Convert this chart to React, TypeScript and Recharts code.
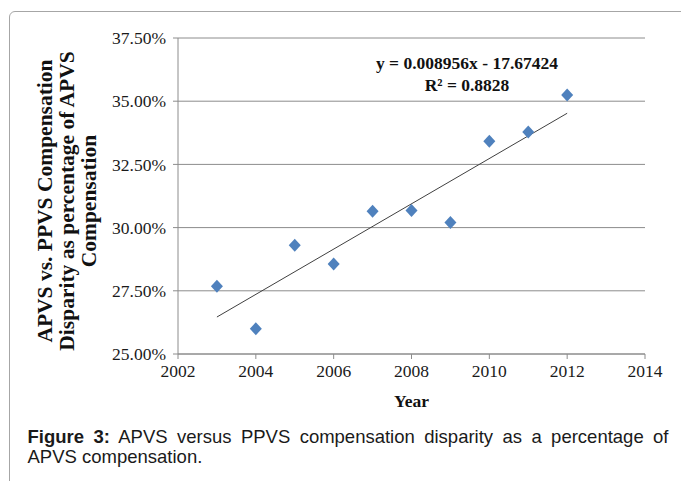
import React from 'react';
import {
  ScatterChart,
  Scatter,
  XAxis,
  YAxis,
  CartesianGrid,
  ReferenceLine,
} from 'recharts';

const years = [2003, 2004, 2005, 2006, 2007, 2008, 2009, 2010, 2011, 2012];
const disparity = [27.68, 26.0, 29.3, 28.56, 30.65, 30.68, 30.2, 33.42, 33.78, 35.25];
const xTicks = [2002, 2004, 2006, 2008, 2010, 2012, 2014];
const yTicks = [25, 27.5, 30, 32.5, 35, 37.5];
const trendSlope = 0.008956;
const trendIntercept = -17.67424;
const trendRange = [2003, 2012];
const yLabelLines = [
  'APVS vs. PPVS Compensation',
  'Disparity as percentage of APVS',
  'Compensation',
];
const equationLines = ['y = 0.008956x - 17.67424', 'R² = 0.8828'];

const data = years.map((year, i) => ({ year, value: disparity[i] }));
const trendPoint = (x: number) => ({ x, y: (trendSlope * x + trendIntercept) * 100 });

const SERIF = '"Liberation Serif", "Times New Roman", serif';
const SANS = '"Liberation Sans", Arial, sans-serif';

const Diamond = (props: any) => {
  const { cx, cy } = props;
  const w = 6;
  const h = 6.5;
  return (
    <polygon
      points={`${cx},${cy - h} ${cx + w},${cy} ${cx},${cy + h} ${cx - w},${cy}`}
      fill="#4F81BD"
    />
  );
};

export default function App() {
  return (
    <div
      style={{
        position: 'fixed',
        left: 0,
        top: 0,
        width: 681,
        height: 481,
        overflow: 'hidden',
        background: '#fff',
      }}
    >
      <div
        style={{
          position: 'absolute',
          left: 9,
          top: 11,
          width: 680,
          height: 490,
          border: '1px solid #a6a6a6',
          borderRadius: 6,
          boxSizing: 'border-box',
        }}
      />
      <div style={{ position: 'absolute', left: 0, top: 0 }}>
        <ScatterChart
          width={681}
          height={481}
          margin={{ top: 38, right: 36, bottom: 97, left: 118 }}
        >
          <CartesianGrid horizontal vertical={false} stroke="#8c8c8c" />
          <XAxis
            type="number"
            dataKey="year"
            domain={[2002, 2014]}
            ticks={xTicks}
            interval={0}
            height={30}
            axisLine={{ stroke: '#8c8c8c' }}
            tickLine={{ stroke: '#8c8c8c' }}
            tickSize={5}
            tickMargin={6}
            tick={{ fill: '#1a1a1a', fontSize: 17.5, fontFamily: SERIF }}
          />
          <YAxis
            type="number"
            dataKey="value"
            domain={[25, 37.5]}
            ticks={yTicks}
            interval={0}
            width={60}
            axisLine={{ stroke: '#8c8c8c' }}
            tickLine={{ stroke: '#8c8c8c' }}
            tickSize={5}
            tickMargin={7}
            tickFormatter={(v: number) => v.toFixed(2) + '%'}
            tick={{ fill: '#1a1a1a', fontSize: 17.5, fontFamily: SERIF }}
          />
          <ReferenceLine
            segment={[trendPoint(trendRange[0]), trendPoint(trendRange[1])]}
            stroke="#404040"
            strokeWidth={1}
          />
          <Scatter data={data} shape={<Diamond />} isAnimationActive={false} />
        </ScatterChart>
      </div>
      <svg
        width={681}
        height={481}
        style={{ position: 'absolute', left: 0, top: 0, pointerEvents: 'none' }}
      >
        <text
          transform="translate(52,201) rotate(-90)"
          textAnchor="middle"
          fontFamily={SERIF}
          fontWeight="bold"
          fontSize={21.5}
          fill="#111"
        >
          {yLabelLines.map((line, i) => (
            <tspan key={i} x={0} dy={i === 0 ? 0 : 22}>
              {line}
            </tspan>
          ))}
        </text>
        <text
          x={467}
          y={69}
          textAnchor="middle"
          fontFamily={SERIF}
          fontWeight="bold"
          fontSize={17.5}
          fill="#111"
        >
          {equationLines.map((line, i) => (
            <tspan key={i} x={467} dy={i === 0 ? 0 : 22}>
              {line}
            </tspan>
          ))}
        </text>
        <text
          x={411.5}
          y={407}
          textAnchor="middle"
          fontFamily={SERIF}
          fontWeight="bold"
          fontSize={17.5}
          fill="#111"
        >
          Year
        </text>
      </svg>
      <div
        style={{
          position: 'absolute',
          left: 27.5,
          top: 426.5,
          width: 641,
          fontFamily: SANS,
          fontSize: 18.5,
          lineHeight: '20px',
          color: '#1a1a1a',
        }}
      >
        <div style={{ textAlign: 'justify', textAlignLast: 'justify', whiteSpace: 'nowrap' as any }}>
          <b>Figure 3:</b> APVS versus PPVS compensation disparity as a percentage of
        </div>
        <div>APVS compensation.</div>
      </div>
    </div>
  );
}
